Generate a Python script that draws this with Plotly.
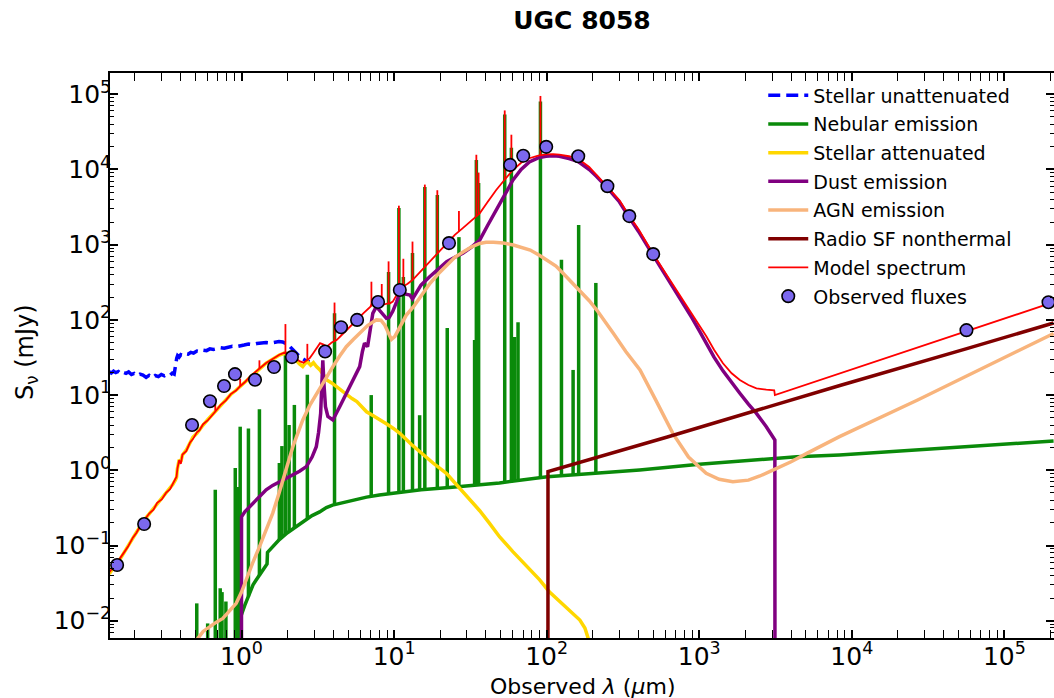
import plotly.graph_objects as go

# ---------------- text ----------------
title_text = "<b>UGC 8058</b>"
x_title = "Observed <i>λ</i> (<i>μ</i>m)"
y_title = "S<sub>ν</sub> (mJy)"

x_tick_vals = [1, 10, 100, 1e3, 1e4, 1e5]
x_tick_text = ["10<sup>0</sup>", "10<sup>1</sup>", "10<sup>2</sup>", "10<sup>3</sup>", "10<sup>4</sup>", "10<sup>5</sup>"]
y_tick_vals = [1e-2, 1e-1, 1, 10, 100, 1e3, 1e4, 1e5]
y_tick_text = ["10<sup>−2</sup>", "10<sup>−1</sup>", "10<sup>0</sup>", "10<sup>1</sup>",
               "10<sup>2</sup>", "10<sup>3</sup>", "10<sup>4</sup>", "10<sup>5</sup>"]

# ---------------- data (wavelength in micron, flux in mJy) ----------------
stellar_unatt = [
    (0.136, 20.5), (0.14, 19.6), (0.145, 20.8), (0.15, 19.9), (0.156, 20.6), (0.162, 19.2), (0.168, 20.1),
    (0.175, 19.5), (0.182, 20.3), (0.19, 18.8), (0.198, 19.4), (0.207, 18.1), (0.216, 19.0), (0.226, 18.4),
    (0.237, 17.2), (0.248, 18.3), (0.26, 17.0), (0.272, 18.2), (0.285, 17.6), (0.298, 18.8), (0.312, 18.0),
    (0.326, 18.9), (0.34, 18.3), (0.352, 19.6), (0.362, 19.0), (0.368, 22), (0.372, 27), (0.376, 31),
    (0.381, 33.5), (0.39, 32), (0.40, 34.5), (0.415, 33.5), (0.43, 35.5), (0.447, 35), (0.465, 37),
    (0.485, 36.2), (0.51, 38.5), (0.535, 37.8), (0.56, 39.6), (0.59, 39), (0.62, 41.2), (0.655, 40.5),
    (0.69, 41.7), (0.73, 42.6), (0.77, 42), (0.82, 43.8), (0.87, 44.6), (0.92, 44), (0.98, 45.8),
    (1.04, 46.3), (1.11, 47.8), (1.18, 47), (1.26, 48.6), (1.35, 49.3), (1.45, 49.9), (1.55, 49.2),
    (1.65, 50.5), (1.76, 51.4), (1.86, 50.8), (1.93, 49), (2.0, 47.5), (2.08, 44), (2.19, 39.8),
    (2.3, 36.5), (2.42, 32), (2.55, 30), (2.67, 28), (2.8, 27.5),
]

stellar_att = [
    (0.136, 0.042), (0.142, 0.048), (0.151, 0.057), (0.16, 0.066), (0.17, 0.08), (0.18, 0.094),
    (0.194, 0.125), (0.205, 0.15), (0.22, 0.19), (0.235, 0.23), (0.249, 0.265), (0.265, 0.31),
    (0.28, 0.36), (0.30, 0.42), (0.32, 0.49), (0.34, 0.57), (0.355, 0.65), (0.368, 0.74), (0.375, 0.8),
    (0.38, 1.05), (0.39, 1.38), (0.40, 1.3), (0.41, 1.6), (0.434, 1.85), (0.46, 2.3), (0.48, 2.75),
    (0.51, 3.1), (0.53, 3.5), (0.56, 4.0), (0.60, 4.7), (0.65, 5.6), (0.68, 6.3), (0.73, 7.3), (0.79, 8.6),
    (0.85, 10.2), (0.92, 11.6), (0.97, 12.8), (1.05, 14.8), (1.13, 17.4), (1.22, 20), (1.32, 22.5),
    (1.45, 26.5), (1.6, 30), (1.77, 34), (1.9, 36), (1.96, 35), (2.05, 33), (2.15, 31), (2.28, 29),
    (2.4, 26), (2.52, 24), (2.62, 26.5), (2.72, 27.5), (2.84, 25), (2.96, 27), (3.1, 24), (3.27, 21.6),
    (3.45, 18.5), (3.62, 15.9), (3.9, 14.5), (4.2, 12.9), (4.5, 11.5), (4.9, 10), (5.3, 9.0), (5.7, 8.2),
    (6.1, 7.0), (6.6, 6.0), (7.3, 5.3), (8.1, 4.7), (9.0, 4.1), (9.9, 3.6), (10.9, 3.1), (13, 2.2),
    (15, 1.7), (18, 1.25), (22, 0.91), (27, 0.58), (30, 0.45), (36.4, 0.29), (42, 0.2), (49.2, 0.13),
    (60, 0.083), (75, 0.051), (90, 0.035), (104, 0.0243), (125, 0.017), (145, 0.0128), (165, 0.0102),
    (178, 0.008), (187, 0.0061), (195, 0.0045),
]

nebular_continuum = [
    (0.93, 0.004), (0.97, 0.0102), (1.05, 0.016), (1.12, 0.023), (1.19, 0.03), (1.25, 0.035),
    (1.36, 0.045), (1.45, 0.055), (1.47, 0.057), (1.48, 0.081), (1.55, 0.09), (1.65, 0.102),
    (1.77, 0.12), (2.0, 0.148), (2.28, 0.178), (2.6, 0.215), (2.9, 0.25), (3.25, 0.28), (3.6, 0.32),
    (3.95, 0.345), (4.38, 0.364), (5.0, 0.39), (6.6, 0.44), (8.0, 0.47), (10.9, 0.51), (15, 0.55),
    (23, 0.59), (49, 0.68), (101, 0.82), (407, 1.01), (1000, 1.2), (4360, 1.51), (8300, 1.6),
    (30000, 1.9), (210000, 2.45),
]

# emission lines: (wavelength, base, peak)
nebular_lines = [
    (0.509, 0.003, 0.017), (0.60, 0.003, 0.0092), (0.673, 0.003, 0.55), (0.725, 0.003, 0.027),
    (0.745, 0.003, 0.024), (0.79, 0.003, 0.018), (0.91, 0.003, 1.07), (0.95, 0.003, 0.6),
    (0.98, 0.011, 3.8), (1.11, 0.021, 3.6), (1.31, 0.04, 6.5), (1.77, 0.12, 1.25), (1.84, 0.13, 2.1),
    (1.94, 0.14, 37.8), (2.05, 0.152, 4.0), (2.22, 0.17, 7.4), (2.70, 0.225, 18.6), (4.07, 0.35, 123),
    (7.08, 0.45, 10), (9.2, 0.49, 434), (10.75, 0.51, 3080), (11.5, 0.52, 372), (13.2, 0.53, 776),
    (14.7, 0.54, 5.4), (15.9, 0.55, 5830), (19.2, 0.57, 4570), (22.3, 0.58, 78), (26.6, 0.6, 1260),
    (33.7, 0.62, 54), (34.6, 0.62, 13400), (35.8, 0.63, 6600), (53.1, 0.68, 53700), (58.7, 0.69, 19500),
    (61.7, 0.7, 59), (64.9, 0.71, 93), (91, 0.8, 80000), (125, 0.85, 630), (149, 0.87, 21.6),
    (162, 0.88, 1830), (210, 0.91, 310),
]

dust = [
    (0.999, 0.001), (1.0, 0.24), (1.05, 0.28), (1.19, 0.363), (1.3, 0.45), (1.45, 0.55), (1.6, 0.63),
    (1.77, 0.705), (2.0, 0.79), (2.17, 0.865), (2.4, 0.97), (2.66, 1.12), (2.9, 1.5), (3.09, 2.06),
    (3.2, 3.2), (3.3, 5.7), (3.36, 12), (3.41, 29), (3.47, 14), (3.55, 7), (3.68, 5.2), (3.97, 4.67),
    (4.4, 7.0), (4.86, 10.6), (5.4, 16), (5.95, 23.9), (6.2, 38), (6.4, 48.9), (6.7, 44), (7.0, 80),
    (7.25, 122), (7.65, 150), (8.0, 135), (8.5, 115), (8.9, 105), (9.3, 108), (9.8, 130), (10.4, 175),
    (10.85, 226), (11.3, 240), (11.9, 220), (12.7, 214), (13.2, 190), (14.0, 230), (15.0, 290),
    (17.1, 375), (19.5, 480), (22.1, 594), (25, 680), (28.2, 769), (32, 920), (36.4, 1150), (41, 1800),
    (46.7, 2900), (53, 4500), (60, 7200), (68, 10000), (77, 12600), (88, 14300), (99, 15000),
    (110, 15200), (121, 15000), (140, 14000), (160, 12800), (190, 10000), (211, 8200), (250, 5700),
    (300, 3700), (348, 2300), (400, 1500), (499, 720), (600, 400), (745, 195), (900, 105), (1000, 72),
    (1115, 48.9), (1250, 32), (1430, 21), (1630, 14.5), (1845, 10.6), (2100, 7.6), (2370, 5.7),
    (2750, 3.8), (3130, 2.53), (3135, 0.001),
]

agn = [
    (0.48, 0.0042), (0.517, 0.0058), (0.56, 0.0072), (0.617, 0.0083), (0.68, 0.0095), (0.754, 0.0107),
    (0.84, 0.0135), (0.923, 0.017), (1.0, 0.024), (1.07, 0.0348), (1.18, 0.058), (1.31, 0.096),
    (1.45, 0.16), (1.6, 0.268), (1.73, 0.44), (1.87, 0.743), (2.0, 1.2), (2.17, 2.06), (2.35, 3.2),
    (2.52, 4.67), (2.8, 7.3), (3.09, 10.3), (3.25, 12.3), (3.6, 17.5), (3.97, 23.9), (4.4, 33),
    (4.86, 44), (5.4, 55), (5.95, 66.4), (6.7, 84), (7.65, 100), (8.2, 99), (8.7, 85), (9.2, 66),
    (9.6, 55), (10.1, 60), (10.9, 81), (12.0, 115), (13.4, 150), (15.2, 220), (17.2, 307), (19.5, 410),
    (22.1, 537), (25, 680), (28.5, 807), (32, 930), (36.4, 1040), (40, 1075), (44.8, 1080), (52, 1050),
    (60.5, 991), (70, 920), (78, 850), (90, 720), (100, 627), (115, 520), (128, 418), (145, 320),
    (165, 250), (190, 180), (213, 135), (240, 98), (274, 66), (330, 38), (409, 21.6), (520, 8.5),
    (671, 3.1), (850, 1.5), (1110, 0.91), (1350, 0.76), (1660, 0.705), (2100, 0.74), (2500, 0.84),
    (3060, 1.01), (4000, 1.3), (5070, 1.68), (6500, 2.2), (8300, 2.8), (27000, 8.6), (210000, 66),
]

radio = [(101.9, 0.001), (102, 0.96), (610, 2.75), (8350, 13.4), (56700, 41.5), (210000, 91)]

model_continuum = [
    (0.136, 0.044), (0.142, 0.049), (0.151, 0.058), (0.16, 0.068), (0.17, 0.081), (0.18, 0.096),
    (0.194, 0.127), (0.205, 0.148), (0.22, 0.192), (0.235, 0.228), (0.249, 0.268), (0.265, 0.3),
    (0.28, 0.37), (0.30, 0.41), (0.32, 0.5), (0.34, 0.56), (0.355, 0.66), (0.368, 0.73), (0.375, 0.82),
    (0.38, 1.05), (0.39, 1.36), (0.40, 1.22), (0.41, 1.62), (0.434, 1.8), (0.46, 2.35), (0.48, 2.6),
    (0.51, 3.2), (0.53, 3.4), (0.56, 4.1), (0.60, 4.6), (0.65, 5.7), (0.68, 6.2), (0.73, 7.4), (0.79, 8.5),
    (0.85, 10.3), (0.92, 11.5), (0.97, 12.9), (1.05, 14.8), (1.13, 17.5), (1.22, 20), (1.32, 22.7),
    (1.45, 26.7), (1.6, 30.3), (1.77, 34.4), (1.9, 36.5), (1.96, 35.8), (2.08, 34), (2.25, 31), (2.42, 28),
    (2.55, 27), (2.67, 29.3), (2.8, 31), (2.95, 36), (3.1, 42), (3.27, 49), (3.45, 47), (3.62, 44),
    (3.9, 50), (4.2, 54), (4.5, 62), (4.9, 73), (5.3, 85), (5.7, 100), (6.28, 122), (6.6, 135), (7.0, 150),
    (7.4, 190), (7.7, 204), (8.0, 190), (8.5, 160), (9.0, 165), (9.35, 165), (9.8, 175), (10.4, 220),
    (10.85, 250), (11.5, 280), (12.2, 300), (13.2, 339), (15, 450), (17.1, 594), (19.5, 800),
    (22.1, 1050), (25, 1350), (28.2, 1660), (32, 2100), (36.4, 2610), (41, 3700), (46.7, 5340),
    (53, 7300), (60, 9800), (68, 12300), (77, 14100), (88, 15300), (99, 15900), (110, 16000),
    (121, 15800), (140, 15000), (160, 14000), (190, 10800), (211, 8600), (250, 5900), (300, 3900),
    (348, 2400), (400, 1600), (499, 750), (600, 420), (745, 210), (900, 118), (1000, 85), (1115, 60),
    (1250, 40), (1430, 26.5), (1630, 19.5), (1845, 15.9), (2100, 13.6), (2370, 12.3), (2750, 11.8),
    (3100, 11.6), (3130, 10.0), (210000, 172),
]

# model line spikes: (wavelength, base, peak)
model_lines = [
    (0.673, 6.2, 7.6), (0.98, 13, 16.5), (1.31, 22.5, 29), (1.94, 35.8, 88), (2.22, 31.5, 39),
    (2.70, 29.8, 48), (4.07, 52, 170), (7.1, 150, 322), (8.3, 165, 300), (9.2, 165, 600),
    (10.75, 245, 3300), (11.5, 280, 650), (13.2, 339, 1100), (15.9, 520, 6300), (19.2, 780, 5300),
    (22.3, 1060, 1140), (26.6, 1500, 2800), (34.6, 2400, 15700), (35.8, 2550, 9100),
    (53.1, 7300, 61000), (58.7, 9300, 29000), (91, 15300, 95000), (162, 13900, 15700),
]

obs_wl = [0.153, 0.23, 0.474, 0.621, 0.768, 0.906, 1.226, 1.633, 2.14, 3.53, 4.49, 5.72, 7.85, 10.9,
          22.9, 57.6, 70.2, 99.3, 161, 250, 348, 499, 56400, 194500]
obs_flux = [0.055, 0.193, 4.0, 8.3, 13.2, 19, 16, 23.6, 32, 38, 80, 100, 173, 250,
            1050, 11500, 15200, 20000, 15000, 6000, 2400, 750, 73, 172]
obs_err = [0.003, 0.01, 0.2, 0.4, 0.7, 1.0, 0.8, 1.2, 1.6, 1.9, 4, 5, 9, 13,
           55, 600, 800, 1000, 800, 300, 120, 40, 9, 12]

# ---------------- helpers ----------------
def split(pairs):
    return [p[0] for p in pairs], [p[1] for p in pairs]


def segments(lines):
    xs, ys = [], []
    for w, b, p in lines:
        xs += [w, w, None]
        ys += [b, p, None]
    return xs, ys


FONT = "DejaVu Sans"
TICK_SIZE = 25
fig = go.Figure()

x, y = split(stellar_unatt)
fig.add_trace(go.Scatter(x=x, y=y, mode="lines", name="Stellar unattenuated", legendgroup="su",
                         line=dict(color="#0000FF", width=3.5, dash="12px,6px")))

x, y = segments(nebular_lines)
fig.add_trace(go.Scatter(x=x, y=y, mode="lines", name="Nebular emission", legendgroup="neb",
                         showlegend=False, line=dict(color="#0A8A0A", width=3.5)))
x, y = split(nebular_continuum)
fig.add_trace(go.Scatter(x=x, y=y, mode="lines", name="Nebular emission", legendgroup="neb",
                         line=dict(color="#0A8A0A", width=3.5)))

x, y = split(stellar_att)
fig.add_trace(go.Scatter(x=x, y=y, mode="lines", name="Stellar attenuated", legendgroup="sa",
                         line=dict(color="#FFD700", width=3.5)))

x, y = split(dust)
fig.add_trace(go.Scatter(x=x, y=y, mode="lines", name="Dust emission", legendgroup="dust",
                         line=dict(color="#800080", width=3.5)))

x, y = split(agn)
fig.add_trace(go.Scatter(x=x, y=y, mode="lines", name="AGN emission", legendgroup="agn",
                         line=dict(color="#F8B47C", width=3.5)))

x, y = split(radio)
fig.add_trace(go.Scatter(x=x, y=y, mode="lines", name="Radio SF nonthermal", legendgroup="radio",
                         line=dict(color="#800000", width=3.5)))

x, y = split(model_continuum)
fig.add_trace(go.Scatter(x=x, y=y, mode="lines", name="Model spectrum", legendgroup="model",
                         line=dict(color="#FF0000", width=1.8)))
x, y = segments(model_lines)
fig.add_trace(go.Scatter(x=x, y=y, mode="lines", name="Model spectrum", legendgroup="model",
                         showlegend=False, line=dict(color="#FF0000", width=1.8)))

fig.add_trace(go.Scatter(x=obs_wl, y=obs_flux, mode="markers", name="Observed fluxes", legendgroup="obs",
                         marker=dict(size=12.5, color="#7B68EE", line=dict(color="black", width=1.6)),
                         error_y=dict(type="data", array=obs_err, color="#7B68EE", thickness=2, width=0)))

minor_x = [m * 10 ** k for k in range(-1, 6) for m in range(2, 10)]
minor_y = [m * 10 ** k for k in range(-3, 6) for m in range(2, 10)]
minor_x_cfg = dict(tickmode="array", tickvals=minor_x, ticks="inside", ticklen=4,
                   tickwidth=1.2, tickcolor="black", showgrid=False)
minor_y_cfg = dict(tickmode="array", tickvals=minor_y, ticks="inside", ticklen=4,
                   tickwidth=1.2, tickcolor="black", showgrid=False)

X_RANGE = [-0.862, 5.325]
Y_RANGE = [-2.23, 5.283]

fig.update_layout(
    xaxis=dict(type="log", range=X_RANGE, tickmode="array", tickvals=x_tick_vals, ticktext=x_tick_text,
               showline=True, linecolor="black", linewidth=1.5, mirror="allticks",
               ticks="inside", ticklen=8, tickwidth=1.5, tickcolor="black",
               showgrid=False, zeroline=False, minor=minor_x_cfg, ticklabelstandoff=-5,
               tickfont=dict(family=FONT, size=TICK_SIZE, color="black")),
    yaxis=dict(type="log", range=Y_RANGE, tickmode="array", tickvals=y_tick_vals, ticktext=y_tick_text,
               showline=True, linecolor="black", linewidth=1.5, mirror=False,
               ticks="inside", ticklen=8, tickwidth=1.5, tickcolor="black",
               showgrid=False, zeroline=False, minor=minor_y_cfg, ticklabelstandoff=-8,
               tickfont=dict(family=FONT, size=TICK_SIZE, color="black")),
    # right-hand tick marks only (the right spine lies at the picture edge)
    yaxis2=dict(type="log", range=Y_RANGE, overlaying="y", side="right", tickmode="array",
                tickvals=y_tick_vals, showticklabels=False, showline=False,
                ticks="inside", ticklen=8, tickwidth=1.5, tickcolor="black",
                showgrid=False, zeroline=False, minor=minor_y_cfg),
    width=1054, height=698,
    margin=dict(l=110, r=0, t=73, b=60),
    paper_bgcolor="white", plot_bgcolor="white",
    font=dict(family=FONT, color="black", size=20),
    title=dict(text=title_text, x=(110 + 1054) / 2 / 1054, xanchor="center", y=1 - 20 / 698,
               yanchor="middle", font=dict(family=FONT, size=25, color="black")),
    legend=dict(x=0.692, y=0.994, xanchor="left", yanchor="top", bgcolor="rgba(255,255,255,0)",
                borderwidth=0, font=dict(family=FONT, size=19, color="black"), itemwidth=40,
                tracegroupgap=1),
    showlegend=True,
)

# invisible point on the right-hand axis so its tick marks are drawn
fig.add_trace(go.Scatter(x=[1], y=[1], yaxis="y2", mode="markers", marker=dict(opacity=0),
                         showlegend=False, hoverinfo="skip"))

# axis titles
fig.add_annotation(text=x_title, xref="paper", yref="paper", x=0.5, y=-(686 - 638) / 565,
                   xanchor="center", yanchor="middle", showarrow=False,
                   font=dict(family=FONT, size=22, color="black"))
fig.add_annotation(text=y_title, xref="paper", yref="paper", x=-(110 - 26) / 944, y=(638 - 352) / 565,
                   xanchor="center", yanchor="middle", showarrow=False, textangle=-90,
                   font=dict(family=FONT, size=24, color="black"))

fig.write_html("out.html", config={"displayModeBar": False},
               post_script="document.body.style.margin='0';")
